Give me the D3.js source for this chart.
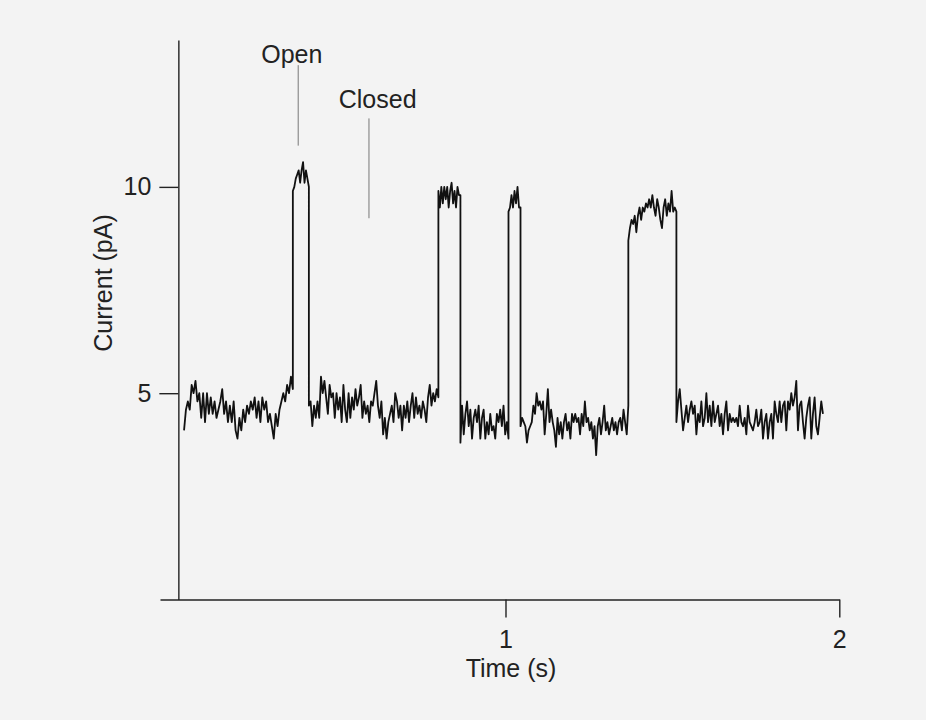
<!DOCTYPE html>
<html>
<head>
<meta charset="utf-8">
<script src="https://cdn.jsdelivr.net/npm/d3@7"></script>
<style>
  body { margin: 0; background: #f3f3f3; }
  svg { display: block; background: #f3f3f3; }
  text { font-family: "Liberation Sans", Arial, sans-serif; fill: #222; }
</style>
</head>
<body>
<svg id="chart"></svg>
<script>
// Single-channel recording: current trace, split at each open/close transition
// Times (s) where the trace starts, switches state and ends
const segmentTimes = [0.037, 0.363, 0.411, 0.799, 0.865, 1.009, 1.045, 1.368, 1.512, 1.951];

// Current samples (pA) within each segment
const closedA = [4.1, 4.6, 4.8, 4.6, 5.2, 5.0, 5.3, 4.8, 5.0, 4.4, 5.0, 4.3, 5.0, 4.5, 4.9, 4.5, 4.8, 4.4, 4.6, 4.8,
  5.1, 4.5, 4.8, 4.3, 4.7, 4.3, 4.8, 4.1, 3.9, 4.4, 4.1, 4.6, 4.3, 4.7, 4.5, 4.8, 4.6, 4.9, 4.4, 4.8,
  4.3, 4.9, 4.6, 4.8, 4.3, 4.5, 4.2, 3.9, 4.5, 4.2, 4.6, 4.8, 5.0, 4.8, 5.2, 5.0, 5.4, 5.1];
const open1 = [9.9, 10.0, 10.2, 10.3, 10.4, 10.1, 10.4, 10.6, 10.1, 10.4, 10.2, 10.0];
const closedB = [4.7, 4.8, 4.2, 4.7, 4.4, 4.8, 4.4, 5.4, 5.0, 5.3, 4.9, 4.5, 5.2, 4.9, 5.0, 4.4, 5.0, 4.6, 4.9, 4.3,
  5.2, 4.6, 4.3, 5.0, 4.4, 4.9, 4.6, 5.1, 4.7, 4.9, 5.2, 4.4, 4.8, 4.5, 4.7, 4.3, 4.8, 4.7, 5.0, 5.3,
  4.7, 4.4, 4.8, 4.0, 4.4, 3.9, 4.3, 4.5, 4.7, 4.3, 5.0, 4.8, 4.4, 4.7, 4.1, 4.7, 4.4, 4.8, 4.3, 4.7,
  5.0, 4.4, 4.9, 4.5, 4.7, 4.4, 4.8, 4.6, 4.3, 4.9, 5.2, 4.7, 5.0, 4.8, 5.1, 4.9];
const open2 = [9.9, 9.5, 10.0, 9.6, 10.0, 9.7, 10.0, 9.5, 9.9, 10.1, 9.6, 9.9, 9.5, 10.0, 9.8, 9.8];
const closedC = [3.8, 4.7, 4.0, 4.5, 4.8, 4.2, 4.6, 3.9, 4.4, 4.6, 4.3, 4.7, 3.9, 4.4, 4.6, 3.9, 4.3, 4.0, 4.5, 4.1,
  4.2, 3.9, 4.5, 4.3, 4.6, 4.2, 4.7, 4.0, 4.3, 3.9];
const open3 = [9.4, 9.5, 9.8, 9.5, 9.9, 9.6, 10.0, 9.5, 9.5];
const closedD = [4.2, 4.4, 4.3, 4.2, 3.8, 4.1, 4.2, 4.3, 4.7, 4.5, 5.0, 4.7, 4.8, 4.6, 4.8, 4.0, 4.5, 5.1, 4.3, 4.6,
  4.3, 4.1, 3.7, 4.4, 4.0, 4.3, 3.9, 4.3, 4.5, 4.1, 4.3, 3.9, 4.5, 4.3, 4.5, 4.3, 4.4, 4.0, 4.5, 4.2,
  4.8, 4.3, 4.4, 4.1, 4.3, 3.9, 4.2, 3.5, 4.2, 4.4, 4.0, 4.3, 4.7, 4.1, 4.3, 4.0, 4.2, 4.4, 4.1, 4.3,
  4.0, 4.3, 4.4, 4.1, 4.6, 4.3, 4.0, 4.7];
const open4 = [8.7, 9.0, 9.2, 9.1, 9.3, 8.9, 9.3, 9.5, 9.2, 9.5, 9.4, 9.6, 9.5, 9.7, 9.5, 9.8, 9.5, 9.3, 9.7, 9.5,
  9.2, 9.0, 9.5, 9.7, 9.3, 9.6, 9.4, 9.9, 9.4, 9.5, 9.4];
const closedE = [4.3, 4.8, 5.1, 4.6, 4.1, 4.4, 4.7, 4.3, 4.6, 4.8, 4.5, 4.7, 4.0, 4.5, 4.3, 4.8, 4.2, 4.4, 5.0, 4.3,
  4.7, 4.2, 4.8, 4.3, 4.5, 4.7, 4.2, 4.5, 4.0, 4.5, 4.8, 4.1, 4.5, 4.3, 4.4, 4.3, 4.4, 4.2, 4.7, 4.3,
  4.2, 4.4, 4.0, 4.7, 4.3, 4.2, 4.1, 4.3, 4.6, 4.2, 4.3, 4.6, 3.9, 4.3, 4.5, 3.9, 4.3, 4.5, 3.9, 4.8,
  4.5, 4.3, 4.8, 4.3, 4.7, 4.8, 4.1, 4.8, 4.6, 5.0, 4.7, 4.9, 5.3, 4.1, 4.7, 4.8, 4.3, 3.9, 4.4, 4.7,
  4.9, 3.9, 4.5, 4.9, 4.2, 4.0, 4.4, 4.8, 4.5];

const segments = [closedA, open1, closedB, open2, closedC, open3, closedD, open4, closedE];

// Axis ticks and labels
const xTicks = [1, 2];
const yTicks = [5, 10];
const annotations = [
  { label: "Open", textTime: 0.36, lineTime: 0.379, textLevel: 13.0, lineTop: 12.95, lineBottom: 11.0 },
  { label: "Closed", textTime: 0.617, lineTime: 0.591, textLevel: 11.9, lineTop: 11.66, lineBottom: 9.24 }
];

// Sizes
const width = 926;
const height = 720;
const fontSize = 25;

const svg = d3.select("#chart")
    .attr("width", width)
    .attr("height", height)
    .attr("viewBox", [0, 0, width, height]);

// Scales (x axis line starts a little left of t = 0, as in the figure)
const x = d3.scaleLinear()
    .domain([-0.035, 2])
    .range([160, 839.3]);

const y = d3.scaleLinear()
    .domain([0, 13.56])
    .range([599.5, 40]);

const yAxisX = x(0.02);

// Build the trace points: samples spread evenly across each segment
const points = [];
segments.forEach((values, k) => {
  const t = d3.scaleLinear()
      .domain([0, values.length - 1])
      .range([segmentTimes[k], segmentTimes[k + 1]]);
  values.forEach((v, i) => points.push([t(i), v]));
});

// x-axis
svg.append("g")
    .attr("transform", `translate(0,${y(0)})`)
    .call(d3.axisBottom(x).tickValues(xTicks).tickFormat(d3.format("d"))
      .tickSize(18).tickPadding(13).tickSizeOuter(0))
    .call(g => g.selectAll("path, line").attr("stroke", "#222").attr("stroke-width", 1.4))
    .call(g => g.selectAll("text").attr("font-size", fontSize).attr("fill", "#222")
      .style("font-family", "'Liberation Sans', Arial, sans-serif"));

// y-axis
svg.append("g")
    .attr("transform", `translate(${yAxisX},0)`)
    .call(d3.axisLeft(y).tickValues(yTicks).tickFormat(d3.format("d"))
      .tickSize(19).tickPadding(8).tickSizeOuter(0))
    .call(g => g.selectAll("path, line").attr("stroke", "#222").attr("stroke-width", 1.4))
    .call(g => g.selectAll("text").attr("font-size", fontSize).attr("fill", "#222")
      .style("font-family", "'Liberation Sans', Arial, sans-serif"));

// Axis titles
svg.append("text")
    .attr("x", 511)
    .attr("y", 677)
    .attr("text-anchor", "middle")
    .attr("font-size", fontSize)
    .text("Time (s)");

svg.append("text")
    .attr("transform", `translate(112,283) rotate(-90)`)
    .attr("text-anchor", "middle")
    .attr("font-size", fontSize)
    .text("Current (pA)");

// Current trace
svg.append("path")
    .datum(points)
    .attr("fill", "none")
    .attr("stroke", "#111")
    .attr("stroke-width", 1.8)
    .attr("stroke-linejoin", "round")
    .attr("d", d3.line().x(d => x(d[0])).y(d => y(d[1])));

// Open / Closed markers
const ann = svg.append("g").selectAll("g")
  .data(annotations)
  .join("g");

ann.append("text")
    .attr("x", d => x(d.textTime))
    .attr("y", d => y(d.textLevel))
    .attr("text-anchor", "middle")
    .attr("font-size", fontSize)
    .text(d => d.label);

ann.append("line")
    .attr("x1", d => x(d.lineTime))
    .attr("x2", d => x(d.lineTime))
    .attr("y1", d => y(d.lineTop))
    .attr("y2", d => y(d.lineBottom))
    .attr("stroke", "#777")
    .attr("stroke-width", 1);
</script>
</body>
</html>
